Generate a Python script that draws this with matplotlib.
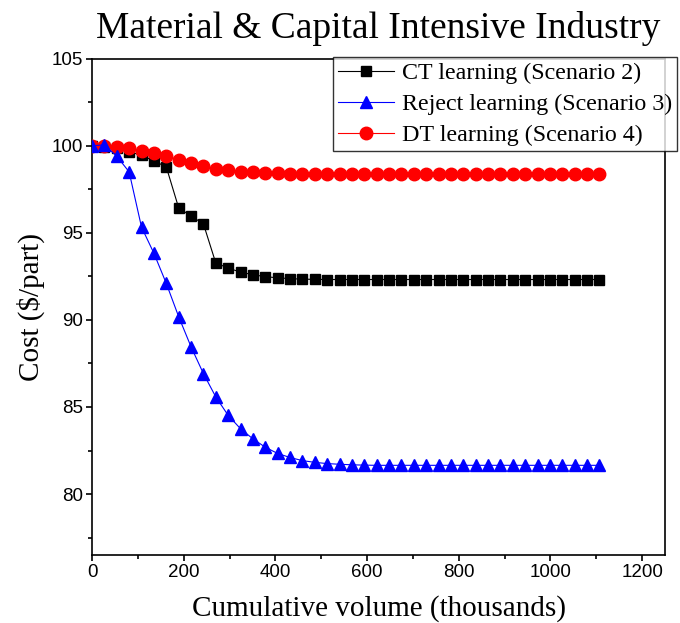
import matplotlib
matplotlib.use("Agg")
import matplotlib.pyplot as plt
from matplotlib.ticker import MultipleLocator

# cumulative volume (thousands) for each simulated lot
volume = [0, 27, 54, 81, 108, 135, 162, 189, 216, 243, 270, 297, 324, 351,
          378, 405, 432, 459, 486, 513, 540, 567, 594, 621, 648, 675, 702,
          729, 756, 783, 810, 837, 864, 891, 918, 945, 972, 999, 1026, 1053,
          1080, 1107]

# cost per part ($) for each learning scenario
ct_cost = [100.0, 99.95, 99.85, 99.65, 99.46, 99.13, 98.79, 96.44, 95.96,
           95.52, 93.27, 92.98, 92.74, 92.6, 92.48, 92.42, 92.37, 92.34,
           92.33, 92.32, 92.32, 92.32, 92.32, 92.32, 92.32, 92.32, 92.32,
           92.32, 92.32, 92.32, 92.32, 92.32, 92.32, 92.32, 92.32, 92.32,
           92.32, 92.32, 92.32, 92.32, 92.32, 92.32]
reject_cost = [100.0, 100.05, 99.4, 98.5, 95.33, 93.83, 92.1, 90.19, 88.46,
               86.92, 85.58, 84.52, 83.75, 83.17, 82.69, 82.33, 82.1, 81.92,
               81.82, 81.75, 81.71, 81.68, 81.66, 81.65, 81.65, 81.65, 81.65,
               81.65, 81.65, 81.65, 81.65, 81.65, 81.65, 81.65, 81.65, 81.65,
               81.65, 81.65, 81.65, 81.65, 81.65, 81.65]
dt_cost = [100.0, 100.0, 99.94, 99.85, 99.71, 99.6, 99.4, 99.21, 99.02,
           98.85, 98.69, 98.6, 98.52, 98.47, 98.43, 98.41, 98.4, 98.39, 98.38,
           98.38, 98.38, 98.38, 98.38, 98.38, 98.38, 98.38, 98.38, 98.38,
           98.38, 98.38, 98.38, 98.38, 98.38, 98.38, 98.38, 98.38, 98.38,
           98.38, 98.38, 98.38, 98.38, 98.38]

labels = ["CT learning (Scenario 2)", "Reject learning (Scenario 3)",
          "DT learning (Scenario 4)"]

serif = "Liberation Serif"
sans = "Liberation Sans"

fig = plt.figure(figsize=(6.8, 6.23), dpi=100)
ax = fig.add_axes([92 / 680, 1 - 555 / 623, (665 - 92) / 680, (555 - 58.7) / 623])

ax.plot(volume, ct_cost, color="black", lw=0.8, marker="s", ms=7.2,
        mfc="black", mec="black", label=labels[0], zorder=3)
ax.plot(volume, reject_cost, color="blue", lw=0.8, marker="^", ms=9.2,
        mfc="blue", mec="blue", label=labels[1], zorder=5)
ax.plot(volume, dt_cost, color="red", lw=0.8, marker="o", ms=9,
        mfc="red", mec="red", label=labels[2], zorder=4)

ax.set_xlim(0, 1250)
ax.set_ylim(76.5, 105)
ax.xaxis.set_major_locator(MultipleLocator(200))
ax.xaxis.set_minor_locator(MultipleLocator(100))
ax.yaxis.set_major_locator(MultipleLocator(5))
ax.yaxis.set_minor_locator(MultipleLocator(2.5))

ax.tick_params(which="major", direction="out", length=4.5, width=1.2,
               labelsize=13.5, pad=2)
ax.tick_params(which="minor", direction="out", length=3, width=1.2)
for lab in ax.get_xticklabels() + ax.get_yticklabels():
    lab.set_family(sans)
for sp in ax.spines.values():
    sp.set_linewidth(1.2)

ax.set_xlabel("Cumulative volume (thousands)", family=serif, fontsize=21,
              labelpad=10)
ax.set_ylabel("Cost ($/part)", family=serif, fontsize=21, labelpad=5)
ax.set_title("Material & Capital Intensive Industry", family=serif,
             fontsize=27, pad=15)

h, l = ax.get_legend_handles_labels()
leg = ax.legend(h, l, loc="upper right", bbox_to_anchor=(677 / 680, 1 - 57 / 623),
                bbox_transform=fig.transFigure, borderaxespad=0,
                prop={"family": serif, "size": 17.3}, frameon=True,
                fancybox=False, edgecolor="black", handlelength=2.3,
                handletextpad=0.33, labelspacing=0.38, borderpad=0.22)
leg.get_frame().set_linewidth(1.0)

fig.savefig("out.png", dpi=100)
